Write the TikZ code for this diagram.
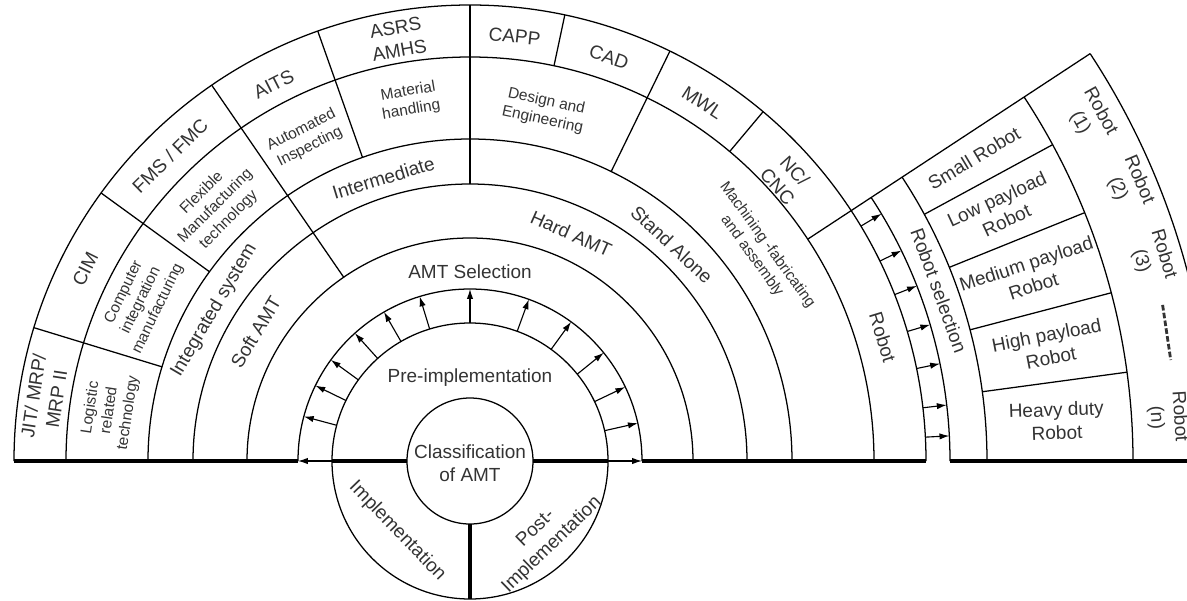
\documentclass[tikz,border=0pt]{standalone}
\usepackage{fontspec}
\setmainfont{Liberation Sans}
\usetikzlibrary{arrows.meta}
\begin{document}
\begin{tikzpicture}[x=0.025cm,y=0.025cm,
  ln/.style={line width=0.9pt},
  thk/.style={line width=2.6pt},
  arr/.style={line width=0.8pt,-{Latex[length=7pt,width=4.5pt]}},
  big/.style={font=\fontsize{13.5}{16.5}\selectfont,align=center,text=black!80,inner sep=0pt},
  sml/.style={font=\fontsize{11}{13.5}\selectfont,align=center,text=black!80,inner sep=0pt}]
\useasboundingbox (-470,-139) rectangle (717,461);
\clip (-470,-139) rectangle (717,461);
\def\rA{63}\def\rB{138}\def\rC{172}\def\rD{223}\def\rE{277}\def\rF{322}\def\rG{404}\def\rH{456}
\def\fA{480}\def\fB{517}\def\fC{663}\def\fD{742}
% main arcs
\foreach \r in {\rC,\rD,\rE,\rF,\rG,\rH} \draw[ln] (0:\r) arc[start angle=0,end angle=180,radius=\r];
\draw[ln] (0,0) circle[radius=\rB];
\draw[ln] (0,0) circle[radius=\rA];
% radial dividers
\draw[ln] (124.5:\rD) -- (124.5:\rH);
\draw[ln] (90:\rE) -- (90:\rH);
\foreach \a in {163,144,109.5,64} \draw[ln] (\a:\rF) -- (\a:\rH);
\foreach \a in {78,50} \draw[ln] (\a:\rG) -- (\a:\rH);
\draw[ln] (33.3:\rG) -- (33.3:\fD);
% robot fan
\foreach \r in {\fA,\fB,\fC,\fD} \draw[ln] (0:\r) arc[start angle=0,end angle=33.3,radius=\r];
\foreach \a in {28.5,22,14.7,7.7} \draw[ln] (\a:\fB) -- (\a:\fC);
% thick base lines
\draw[thk] (-\rH,0) -- (-\rC,0);
\draw[thk] (-\rB,0) -- (-\rA,0);
\draw[thk] (\rA,0) -- (\rB,0);
\draw[thk] (\rC,0) -- (\rH,0);
\draw[thk] (\fA,0) -- (720,0);
\draw[thk] (0,-\rA) -- (0,-\rB);
% arrows
\foreach \a in {180,165,154,144,132,120,107,90,70,54,39,25.5,12.7,0} \draw[arr] (\a:\rB) -- (\a:\rC);
\foreach \a in {31,26,21.4,16.5,11.7,6.7,3} \draw[arr] (\a:\rH) -- (\a:\fA);
% outer ring
\node[big,rotate=81.5] (jit) at (171.5:430) {JIT/ MRP/\\MRP II};
\node[big,rotate=63.5] (cim) at (153.5:430) {CIM};
\node[big,rotate=44.5] (fms) at (134.5:428) {FMS / FMC};
\node[big,rotate=27] (aits) at (117.5:425) {AITS};
\node[big,rotate=10] (asrs) at (99.75:428) {ASRS\\AMHS};
\node[big,rotate=-6] (capp) at (84:427) {CAPP};
\node[big,rotate=-19] (cad) at (71:427) {CAD};
\node[big,rotate=-33] (mwl) at (57:427) {MWL};
\node[big,rotate=-48] (nc) at (41.75:424) {NC/\\CNC};
\node[big,rotate=-73] (robot) at (16.7:431) {Robot};
% second ring
\node[sml,rotate=81.5] (log) at (172:364) {Logistic\\related\\technology};
\node[sml,rotate=64] (cim2) at (154:366) {Computer\\integration\\manufacturing};
\node[sml,rotate=45] (flex) at (135:360) {Flexible\\Manufacturing\\technology};
\node[sml,rotate=27] (auto) at (117:362) {Automated\\Inspecting};
\node[sml,rotate=9.5] (mat) at (99.5:365) {Material\\handling};
\node[sml,rotate=-12] (des) at (78:358) {Design and\\Engineering};
\node[sml,rotate=-54] (mach) at (36:358) {Machining -fabricating\\and assembly};
% inner rings
\node[big,rotate=59.5] (integ) at (149.5:297) {Integrated system};
\node[big,rotate=17] (inter) at (107:296) {Intermediate};
\node[big,rotate=-43] (stand) at (47:296) {Stand Alone};
\node[big,rotate=59] (soft) at (149:250) {Soft AMT};
\node[big,rotate=-24] (hard) at (66:249) {Hard AMT};
\node[big] (sel) at (90:189) {AMT Selection};
\node[big] (pre) at (90:83) {Pre-implementation};
\node[big] (cls) at (0,-2) {Classification\\of AMT};
\node[big,rotate=-46] (imp) at (224:101) {Implementation};
\node[big,rotate=44] (post) at (-45.7:106) {Post-\\Implementation};
% fan texts
\node[big,rotate=-70] (rsel) at (20:499) {Robot selection};
\node[big,rotate=31] (small) at (31:588) {Small Robot};
\node[big,rotate=25] (low) at (25.3:588) {Low payload\\Robot};
\node[big,rotate=18] (med) at (18.4:590) {Medium payload\\Robot};
\node[big,rotate=11] (high) at (11.2:590) {High payload\\Robot};
\node[big,rotate=2] (heavy) at (3.9:588) {Heavy duty\\Robot};
\node[big,rotate=-61] (rob1) at (29:709) {Robot\\(1)};
\node[big,rotate=-67] (rob2) at (22.8:714) {Robot\\(2)};
\node[big,rotate=-73.4] (rob3) at (16.6:712) {Robot\\(3)};
\node[big,rotate=-86.4] (robn) at (3.6:699) {Robot\\(n)};
\coordinate (dA) at (12.7:710);
\coordinate (dB) at (8.2:708);
\draw[line width=2pt,dash pattern=on 4pt off 1.6pt,black!80] (dA) -- (dB);
\end{tikzpicture}
\end{document}
